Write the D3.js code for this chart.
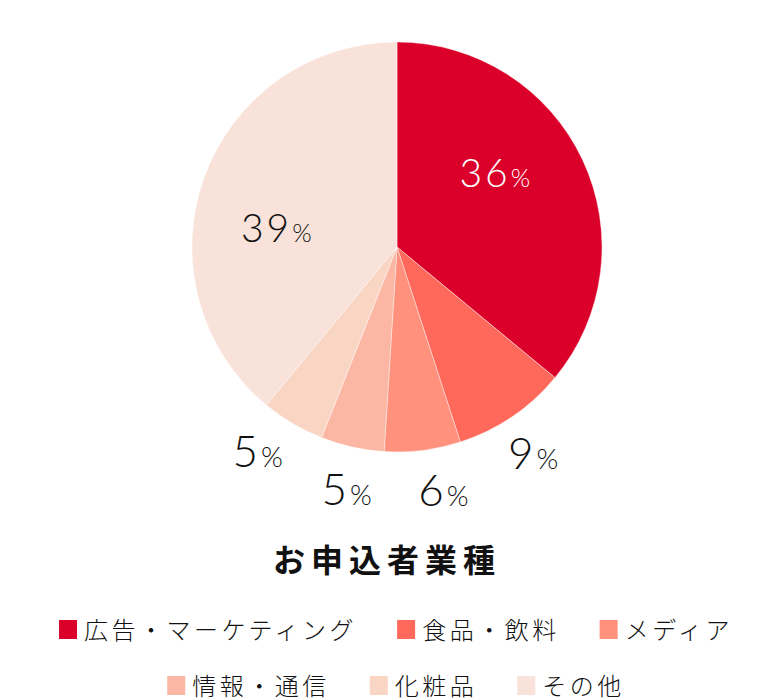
<!DOCTYPE html>
<html>
<head>
<meta charset="utf-8">
<script src="https://cdn.jsdelivr.net/npm/d3@7"></script>
<style>
  body { margin: 0; background: #fff; }
  svg { display: block; }
</style>
</head>
<body>
<div id="chart"></div>
<script>
var width = 770;
var height = 700;

// data
var categories = ["広告・マーケティング", "食品・飲料", "メディア", "情報・通信", "化粧品", "その他"];
var shares = [36, 9, 6, 5, 5, 39];
var sliceColors = ["#da0029", "#ff695b", "#ff917d", "#fbb7a3", "#f9d5c4", "#f8e2d9"];
var chartTitle = "お申込者業種";

// layout
var cx = 397, cy = 247, radius = 205;
var numFont = "Lato, 'Noto Sans', sans-serif";
var jpFont = "'Noto Sans CJK JP', 'Noto Sans', sans-serif";

var svg = d3.select("#chart")
    .append("svg")
    .attr("width", width)
    .attr("height", height);

var pie = d3.pie().sort(null).value(function(d){ return d; });
var arcs = pie(shares);

var arc = d3.arc().innerRadius(0).outerRadius(radius);

var g = svg.append("g")
    .attr("transform", "translate(" + cx + "," + cy + ")");

g.selectAll("path.slice")
    .data(arcs)
    .enter()
        .append("path")
        .attr("class", "slice")
        .attr("d", arc)
        .attr("fill", function(d, i){ return sliceColors[i]; })
        .attr("stroke", "#fff")
        .attr("stroke-opacity", 0.5)
        .attr("stroke-width", 0.8);

// small slices get their labels outside, spread evenly around their mean angle
var outer = arcs.filter(function(d){ return d.value < 20; });
var outerMean = d3.mean(outer, function(d){ return (d.startAngle + d.endAngle) / 2; });
var spread = 22.5 * Math.PI / 180;
outer.forEach(function(d, k){
    d.labelAngle = outerMean + (k - (outer.length - 1) / 2) * spread;
});

function labelPos(d){
    var inside = d.value >= 20;
    var a, r;
    if (inside) {
        a = (d.startAngle + d.endAngle) / 2 - 0.2; // nudge like the original
        r = 122;
    } else {
        a = d.labelAngle;
        r = 248;
    }
    return [Math.sin(a) * r, -Math.cos(a) * r, inside];
}

var labels = g.selectAll("text.pct")
    .data(arcs)
    .enter()
        .append("text")
        .attr("class", "pct")
        .attr("text-anchor", "middle")
        .attr("font-family", numFont)
        .attr("font-weight", 300)
        .attr("fill", function(d, i){ return i === 0 ? "#fff" : "#111"; })
        .attr("x", function(d){ return labelPos(d)[0]; })
        .attr("y", function(d){
            var p = labelPos(d);
            return p[1] + (p[2] ? 13 : 15);
        });

labels.append("tspan")
    .attr("font-size", function(d){ return labelPos(d)[2] ? 39 : 44; })
    .attr("letter-spacing", 3)
    .text(function(d){ return d.value; });
labels.append("tspan")
    .attr("font-size", function(d){ return labelPos(d)[2] ? 25 : 28; })
    .text("%");

// title
svg.append("text")
    .attr("x", 387)
    .attr("y", 572)
    .attr("text-anchor", "middle")
    .attr("font-family", jpFont)
    .attr("font-weight", 700)
    .attr("font-size", 32)
    .attr("letter-spacing", 6)
    .attr("fill", "#111")
    .text(chartTitle);

// legend, two rows centered
var rows = [[0, 1, 2], [3, 4, 5]];
var rowY = [630, 686];
var box = 18, boxGap = 7, itemGap = 40, legendCenter = 396;

var legend = svg.append("g").attr("id", "legend");

rows.forEach(function(row, r){
    var rowG = legend.append("g");
    var x = 0;
    row.forEach(function(idx, k){
        var item = rowG.append("g").attr("transform", "translate(" + x + ",0)");
        item.append("rect")
            .attr("x", 0)
            .attr("y", rowY[r] - box / 2 - 1)
            .attr("width", box)
            .attr("height", box + 1)
            .attr("fill", sliceColors[idx]);
        var t = item.append("text")
            .attr("x", box + boxGap)
            .attr("y", rowY[r] + 9)
            .attr("font-family", jpFont)
            .attr("font-size", 24)
            .attr("font-weight", 300)
            .attr("letter-spacing", 3.5)
            .attr("fill", "#111")
            .text(categories[idx]);
        var w = t.node().getComputedTextLength();
        x += box + boxGap + w + (k < row.length - 1 ? itemGap : 0);
    });
    rowG.attr("transform", "translate(" + (legendCenter - x / 2) + ",0)");
});
</script>
</body>
</html>
